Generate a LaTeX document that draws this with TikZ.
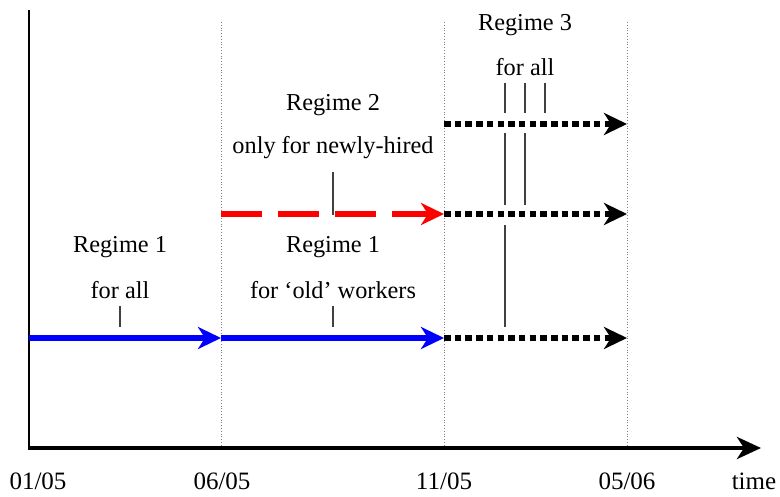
\documentclass[tikz,border=0pt]{standalone}
\usepackage{fontspec}
\setmainfont{Liberation Serif}
\usetikzlibrary{arrows.meta}
\begin{document}
\begin{tikzpicture}[x=1pt,y=-1pt,
  lbl/.style={font=\fontsize{24.3}{28}\selectfont, inner sep=0pt},
  datelbl/.style={font=\fontsize{25}{29}\selectfont, inner sep=0pt},
  guide/.style={gray, line width=0.8pt, dotted},
  tick/.style={black!75, line width=1.3pt},
  headtip/.style={-{Stealth[length=23pt,width=22pt,inset=7pt]}},
  bluearrow/.style={headtip, blue, line width=5.5pt},
  redarrow/.style={headtip, red, line width=5.5pt, dash pattern=on 41pt off 16pt},
  blackarrow/.style={headtip, black, line width=6pt, dash pattern=on 6.5pt off 4.2pt},
  axisarrow/.style={-{Stealth[length=24pt,width=22pt,inset=7pt]}, black, line width=4.5pt}]
\useasboundingbox (0,0) rectangle (780,497);
% reference points
\coordinate (o) at (29,448);
\coordinate (ytop) at (29,10);
\coordinate (xend) at (761,448);
\coordinate (g1t) at (221,22); \coordinate (g1b) at (221,448);
\coordinate (g2t) at (444,22); \coordinate (g2b) at (444,448);
\coordinate (g3t) at (627,22); \coordinate (g3b) at (627,448);
\coordinate (a0) at (29,338); \coordinate (a1) at (221,338); \coordinate (a2) at (444,338); \coordinate (a3) at (627,338);
\coordinate (b1) at (221,214); \coordinate (b2) at (444,214); \coordinate (b3) at (627,214);
\coordinate (c2) at (444,124); \coordinate (c3) at (627,124);
% guides
\draw[guide] (g1t) -- (g1b);
\draw[guide] (g2t) -- (g2b);
\draw[guide] (g3t) -- (g3b);
% axes
\draw[black, line width=1.3pt] (o) -- (ytop);
\draw[axisarrow] ([xshift=-0.6pt]o) -- (xend);
% arrows
\draw[bluearrow] (a0) -- (a1);
\draw[bluearrow] (a1) -- (a2);
\draw[redarrow] (b1) -- (b2);
\draw[blackarrow] (a2) -- (a3);
\draw[blackarrow] (b2) -- (b3);
\draw[blackarrow] (c2) -- (c3);
% labels
\node[lbl] (r1a) at (120,247) {Regime 1};
\node[lbl] (r1b) at (120,290) {for all};
\node[lbl] (r1c) at (333,247) {Regime 1};
\node[lbl] (r1d) at (333,290) {for ‘old’ workers};
\node[lbl] (r2a) at (333,105) {Regime 2};
\node[lbl] (r2b) at (333,148) {only for newly-hired};
\node[lbl] (r3a) at (525,25) {Regime 3};
\node[lbl] (r3b) at (525,67) {for all};
\node[datelbl] (d1) at (38,481) {01/05};
\node[datelbl] (d2) at (222,481) {06/05};
\node[datelbl] (d3) at (444,481) {11/05};
\node[datelbl] (d4) at (627,481) {05/06};
\node[datelbl] (d5) at (754,481) {time};
% ticks
\coordinate (t1a) at (120,306); \coordinate (t1b) at (120,327);
\coordinate (t2a) at (333,306); \coordinate (t2b) at (333,327);
\coordinate (t3a) at (333,172); \coordinate (t3b) at (333,215);
\draw[tick] (t1a) -- (t1b);
\draw[tick] (t2a) -- (t2b);
\draw[tick] (t3a) -- (t3b);
\coordinate (u1a) at (505,83); \coordinate (u1b) at (505,113);
\coordinate (u2a) at (525,83); \coordinate (u2b) at (525,113);
\coordinate (u3a) at (545,83); \coordinate (u3b) at (545,113);
\draw[tick] (u1a) -- (u1b);
\draw[tick] (u2a) -- (u2b);
\draw[tick] (u3a) -- (u3b);
\coordinate (v1a) at (505,133); \coordinate (v1b) at (505,205);
\coordinate (v2a) at (525,133); \coordinate (v2b) at (525,205);
\draw[tick] (v1a) -- (v1b);
\draw[tick] (v2a) -- (v2b);
\coordinate (w1a) at (505,225); \coordinate (w1b) at (505,327);
\draw[tick] (w1a) -- (w1b);
\end{tikzpicture}
\end{document}
